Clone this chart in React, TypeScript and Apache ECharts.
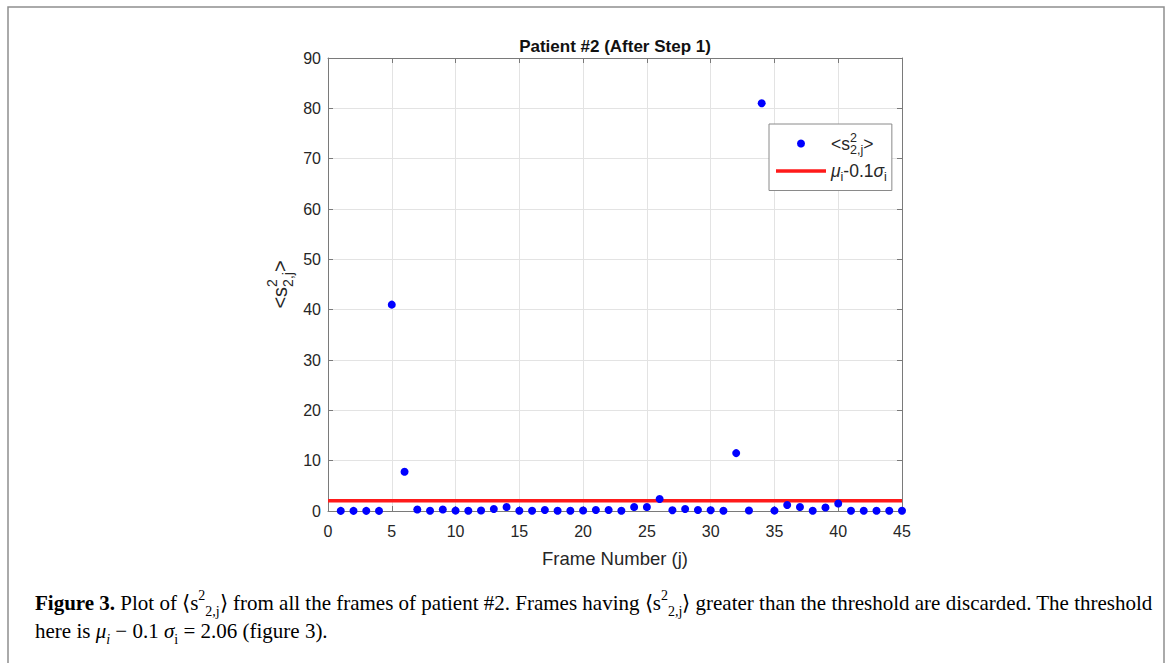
import React, { useEffect, useRef } from "react";
import * as echarts from "echarts";

// ---- data ----
const frames = [
  1, 2, 3, 4, 5, 6, 7, 8, 9, 10, 11, 12, 13, 14, 15, 16, 17, 18, 19, 20, 21, 22, 23,
  24, 25, 26, 27, 28, 29, 30, 31, 32, 33, 34, 35, 36, 37, 38, 39, 40, 41, 42, 43, 44, 45,
];
const s2Values = [
  0.02, 0.02, 0.03, 0.02, 41.0, 7.8, 0.3, 0.05, 0.3, 0.08, 0.06, 0.1, 0.4, 0.8, 0.05,
  0.06, 0.2, 0.06, 0.05, 0.1, 0.2, 0.2, 0.05, 0.8, 0.8, 2.4, 0.15, 0.4, 0.2, 0.15,
  0.05, 11.5, 0.1, 81.0, 0.08, 1.2, 0.8, 0.05, 0.7, 1.5, 0.05, 0.05, 0.06, 0.05, 0.05,
];
const thresholdX = [0, 45];
const thresholdY = [2.06, 2.06];
const xRange = { min: 0, max: 45, interval: 5 };
const yRange = { min: 0, max: 90, interval: 10 };

const titleText = "Patient #2 (After Step 1)";
const xName = "Frame Number (j)";

const SANS = '"Liberation Sans", Arial, Helvetica, sans-serif';
const SERIF = '"Liberation Serif", "Times New Roman", Times, serif';
const INK = "#262626";

export default function App() {
  const ref = useRef<HTMLDivElement>(null);

  useEffect(() => {
    if (!ref.current) return;
    const chart = echarts.init(ref.current, undefined, { renderer: "svg" });

    const gridL = 328, gridT = 58, gridR = 902, gridB = 511;

    const axisRich = (size: number, small: number, lh: number) => ({
      n: { fontSize: size, fontFamily: SANS, color: INK, lineHeight: lh, align: "left" },
      it: { fontSize: size, fontFamily: SANS, fontStyle: "italic", color: INK, lineHeight: lh, align: "left" },
      sup: { fontSize: small, fontFamily: SANS, color: INK, verticalAlign: "top", width: 0, align: "left" },
      sub: { fontSize: small, fontFamily: SANS, color: INK, verticalAlign: "bottom", align: "left" },
      subi: { fontSize: small, fontFamily: SANS, color: INK, verticalAlign: "bottom", align: "left" },
    });

    const CS = 21;
    const CSS = 14;
    const CLH = 30;
    const capRich = {
      n: { fontSize: CS, fontFamily: SERIF, color: "#000", lineHeight: CLH, align: "left" },
      b: { fontSize: CS, fontFamily: SERIF, fontWeight: "bold", color: "#000", lineHeight: CLH, align: "left" },
      it: { fontSize: CS, fontFamily: SERIF, fontStyle: "italic", color: "#000", lineHeight: CLH, align: "left" },
      sup: { fontSize: CSS, fontFamily: SERIF, color: "#000", verticalAlign: "top", align: "left" },
      sub: { fontSize: CSS, fontFamily: SERIF, color: "#000", verticalAlign: "bottom", align: "left" },
      itsub: { fontSize: CSS, fontFamily: SERIF, fontStyle: "italic", color: "#000", verticalAlign: "bottom", align: "left" },
      link: { fontSize: CS, fontFamily: SERIF, color: "#1f7fc4", lineHeight: CLH, align: "left" },
    };

    const axisLineStyle = { color: "#7a7a7a", width: 1 };

    chart.setOption({
      animation: false,
      backgroundColor: "#ffffff",
      grid: {
        left: gridL,
        top: gridT,
        width: gridR - gridL,
        height: gridB - gridT,
        containLabel: false,
      },
      xAxis: [
        {
          type: "value",
          ...xRange,
          position: "bottom",
          name: xName,
          nameLocation: "middle",
          nameGap: 38,
          nameTextStyle: { fontSize: 18.5, fontFamily: SANS, color: INK },
          axisLine: { show: true, onZero: false, lineStyle: axisLineStyle },
          axisTick: { show: true, inside: true, length: 5, lineStyle: axisLineStyle },
          axisLabel: { fontSize: 16, fontFamily: SANS, color: INK, margin: 12 },
          splitLine: { show: true, lineStyle: { color: "#e3e3e3", width: 1 } },
        },
        {
          type: "value",
          ...xRange,
          position: "top",
          axisLine: { show: true, onZero: false, lineStyle: axisLineStyle },
          axisTick: { show: true, inside: true, length: 5, lineStyle: axisLineStyle },
          axisLabel: { show: false },
          splitLine: { show: false },
        },
      ],
      yAxis: [
        {
          type: "value",
          ...yRange,
          position: "left",
          name: "{n|<s}{sup|2}{sub|2,j}{n|>}",
          nameLocation: "middle",
          nameRotate: 90,
          nameGap: 33,
          nameTextStyle: { rich: axisRich(20, 14, 30) },
          axisLine: { show: true, onZero: false, lineStyle: axisLineStyle },
          axisTick: { show: true, inside: true, length: 5, lineStyle: axisLineStyle },
          axisLabel: { fontSize: 16, fontFamily: SANS, color: INK, margin: 7 },
          splitLine: { show: true, lineStyle: { color: "#e3e3e3", width: 1 } },
        },
        {
          type: "value",
          ...yRange,
          position: "right",
          axisLine: { show: true, onZero: false, lineStyle: axisLineStyle },
          axisTick: { show: true, inside: true, length: 5, lineStyle: axisLineStyle },
          axisLabel: { show: false },
          splitLine: { show: false },
        },
      ],
      legend: {
        orient: "vertical",
        left: 769,
        top: 124,
        padding: [7, 5, 7, 7],
        itemWidth: 50,
        itemHeight: 8,
        itemGap: 6,
        backgroundColor: "#ffffff",
        borderColor: "#8a8a8a",
        borderWidth: 1,
        borderRadius: 0,
        data: [
          { name: "s2", icon: "circle" },
          { name: "threshold", icon: "path://M0 0H50V3.6H0Z" },
        ],
        formatter: (name: string) =>
          name === "s2"
            ? "{n|<s}{sup|2}{sub|2,j}{n|>}"
            : "{it|μ}{subi|i}{n|-0.1}{it|σ}{subi|i}",
        textStyle: { rich: axisRich(17.5, 12.5, 25) },
      },
      series: [
        {
          name: "s2",
          type: "scatter",
          xAxisIndex: 0,
          yAxisIndex: 0,
          symbol: "circle",
          symbolSize: 8,
          itemStyle: { color: "#0000ff", opacity: 1 },
          data: frames.map((f, i) => [f, s2Values[i]]),
          z: 3,
        },
        {
          name: "threshold",
          type: "line",
          xAxisIndex: 0,
          yAxisIndex: 0,
          symbol: "none",
          showSymbol: false,
          lineStyle: { color: "#ff1a1a", width: 3.5 },
          itemStyle: { color: "#ff1a1a" },
          data: thresholdX.map((x, i) => [x, thresholdY[i]]),
          z: 2,
        },
      ],
      graphic: [
        {
          type: "rect",
          shape: { x: 8, y: 7, width: 1156, height: 670 },
          style: { fill: "none", stroke: "#8f8f8f", lineWidth: 1.5 },
          silent: true,
        },
        {
          type: "text",
          x: (gridL + gridR) / 2,
          y: 46,
          style: {
            text: titleText,
            font: `bold 17px ${SANS}`,
            fill: "#111",
            align: "center",
            verticalAlign: "middle",
          },
        },
        {
          type: "text",
          x: 35,
          y: 603,
          style: {
            text:
              "{b|Figure 3.}{n| Plot of ⟨s}{sup|2}{sub|2,j}{n|⟩ from all the frames of patient #2. Frames having ⟨s}{sup|2}{sub|2,j}{n|⟩ greater than the threshold are discarded. The threshold}",
            rich: capRich,
            align: "left",
            verticalAlign: "middle",
          },
        },
        {
          type: "text",
          x: 35,
          y: 631,
          style: {
            text:
              "{n|here is }{it|μ}{itsub|i}{n| − 0.1 }{it|σ}{sub|i}{n| = 2.06 (figure }{link|3}{n|).}",
            rich: capRich,
            align: "left",
            verticalAlign: "middle",
          },
        },
      ],
    });

    return () => chart.dispose();
  }, []);

  return (
    <div
      ref={ref}
      style={{ position: "fixed", left: 0, top: 0, width: 1171, height: 663, background: "#fff" }}
    />
  );
}
